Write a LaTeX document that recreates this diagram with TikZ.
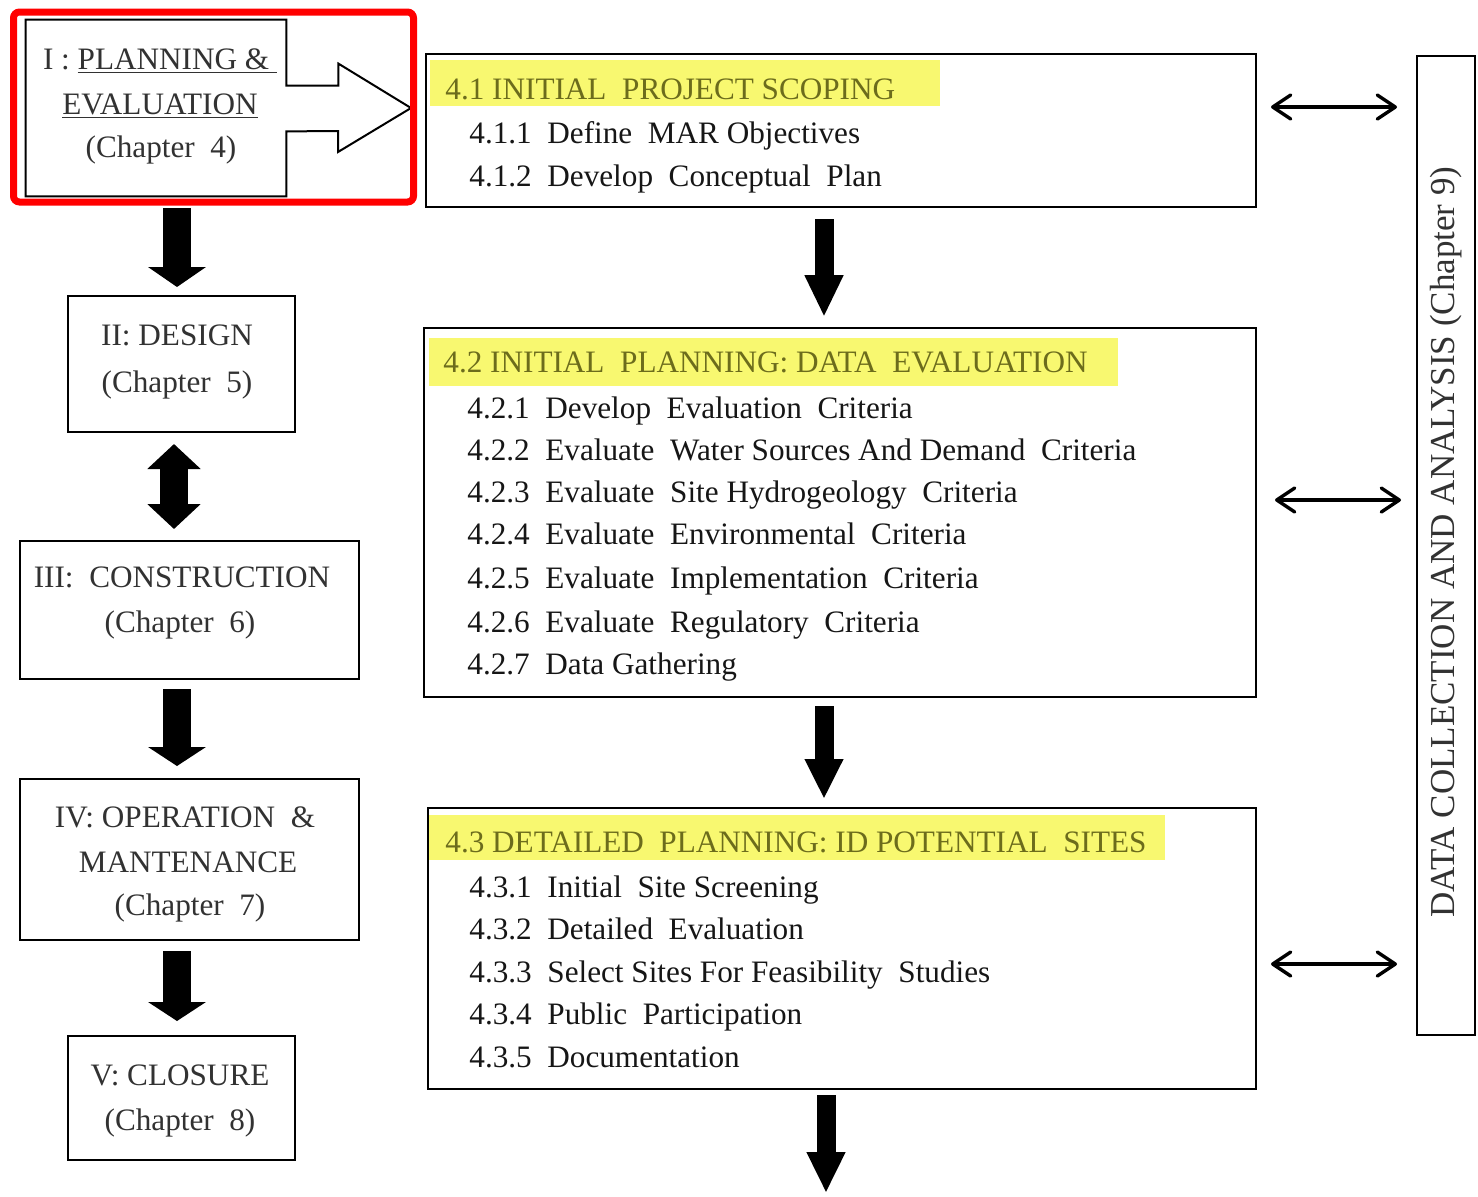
\documentclass[tikz,border=0pt]{standalone}
\usepackage{fontspec}
\setmainfont{Liberation Serif}
\usetikzlibrary{arrows.meta,calc}

\definecolor{hlyellow}{RGB}{248,248,112}
\definecolor{headolive}{RGB}{108,108,28}
\definecolor{phasetext}{RGB}{50,50,50}
\definecolor{itemtext}{RGB}{22,22,22}
\definecolor{focusred}{RGB}{255,0,0}

\newcommand{\txtsize}{\fontsize{15.6}{19}\selectfont}

\begin{document}
\begin{tikzpicture}[x=0.5pt,y=-0.5pt,
  frame/.style={draw=black, line width=1pt, inner sep=0pt, fill=white},
  phaselabel/.style={anchor=base, text=phasetext, font=\txtsize, inner sep=0pt},
  headlabel/.style={anchor=base west, text=headolive, font=\txtsize, inner sep=0pt},
  itemlabel/.style={anchor=base west, text=itemtext, font=\txtsize, inner sep=0pt},
  highlight/.style={fill=hlyellow, draw=none},
  wideflow/.style={line width=14pt, -{Triangle[width=28.5pt,length=#1]}},
  wideflow/.default=10pt,
  twoway/.style={line width=14pt, {Triangle[width=26pt,length=12.5pt]}-{Triangle[width=26pt,length=12.5pt]}},
  narrowflow/.style={line width=9.5pt, -{Triangle[width=18pt,length=#1]}},
  narrowflow/.default=21pt,
  exchange/.style={line width=1.7pt, line cap=round,
    {Straight Barb[length=9pt,width=12pt,line cap=round,line join=round]}-{Straight Barb[length=9pt,width=12pt,line cap=round,line join=round]}},
]
% page area
\useasboundingbox (0,0) rectangle (1478,1196);
\fill[white] (0,0) rectangle (1478,1196);

% ---------- left column: project phases ----------
\node[inner sep=0pt, minimum width=130pt, minimum height=88pt] (p1) at (156,108) {};
\node[frame, minimum width=113.5pt, minimum height=68pt] (p2) at (181.5,364) {};
\node[frame, minimum width=169.5pt, minimum height=69pt] (p3) at (189.5,610) {};
\node[frame, minimum width=169.5pt, minimum height=80.5pt] (p4) at (189.5,859.5) {};
\node[frame, minimum width=113.5pt, minimum height=62pt] (p5) at (181.5,1098) {};

% phase I box merged with its outline arrow
\draw[line width=1pt, line join=miter]
  (p1.north west) -- (p1.north east) -- ($(p1.north east)+(0,66)$)
  -- ++(52,0) -- ++(0,-22) -- (411,108) -- (338,152) -- (338,131)
  -- ($(p1.south east)+(0,-65)$) -- (p1.south east) -- (p1.south west) -- cycle;

% highlight around phase I
\node[draw=focusred, line width=3.5pt, rounded corners=3pt, inner sep=0pt,
      minimum width=200pt, minimum height=95pt] (focus) at (213.5,107) {};

\node[phaselabel] (p1a) at (160,69) {I : \underline{PLANNING \& }};
\node[phaselabel] (p1b) at (160,114) {\underline{EVALUATION}};
\node[phaselabel] (p1c) at (161,157) {(Chapter\ \ 4)};

\node[phaselabel] (p2a) at (177,345) {II: DESIGN};
\node[phaselabel] (p2b) at (177,392) {(Chapter\ \ 5)};

\node[phaselabel] (p3a) at (182,587) {III:\ \ CONSTRUCTION};
\node[phaselabel] (p3b) at (180,632) {(Chapter\ \ 6)};

\node[phaselabel] (p4a) at (185,827) {IV: OPERATION\ \ \&};
\node[phaselabel] (p4b) at (188,872) {MANTENANCE};
\node[phaselabel] (p4c) at (190,915) {(Chapter\ \ 7)};

\node[phaselabel] (p5a) at (180,1085) {V: CLOSURE};
\node[phaselabel] (p5b) at (180,1130) {(Chapter\ \ 8)};

% block arrows between phases
\coordinate (lcol) at (177,0);
\coordinate (lcolb) at (174,0);
\draw[wideflow, shorten <=6pt, shorten >=4pt] (lcol |- p1.south) -- (lcol |- p2.north);
\draw[twoway, shorten <=5.5pt, shorten >=5.5pt] (lcolb |- p2.south) -- (lcolb |- p3.north);
\draw[wideflow=9.5pt, shorten <=4.5pt, shorten >=6pt] (lcol |- p3.south) -- (lcol |- p4.north);
\draw[wideflow=9.5pt, shorten <=5pt, shorten >=7pt] (lcol |- p4.south) -- (lcol |- p5.north);

% ---------- middle column: planning steps ----------
\node[frame, minimum width=415pt, minimum height=76.5pt] (s41) at (841,130.5) {};
\node[frame, minimum width=416pt, minimum height=184.5pt] (s42) at (840,512.5) {};
\node[frame, minimum width=414pt, minimum height=140.5pt] (s43) at (842,948.5) {};

\fill[highlight] (430,60) rectangle (940,106);
\fill[highlight] (429,338) rectangle (1118,386);
\fill[highlight] (429,815) rectangle (1165,860);

\node[headlabel] (h41) at (445,99) {4.1 INITIAL\ \ PROJECT SCOPING};
\node[itemlabel] (i411) at (469,143) {4.1.1\ \ Define\ \ MAR Objectives};
\node[itemlabel] (i412) at (469,186) {4.1.2\ \ Develop\ \ Conceptual\ \ Plan};

\node[headlabel] (h42) at (443,372) {4.2 INITIAL\ \ PLANNING: DATA\ \ EVALUATION};
\node[itemlabel] (i421) at (467,418) {4.2.1\ \ Develop\ \ Evaluation\ \ Criteria};
\node[itemlabel] (i422) at (467,460) {4.2.2\ \ Evaluate\ \ Water Sources And Demand\ \ Criteria};
\node[itemlabel] (i423) at (467,502) {4.2.3\ \ Evaluate\ \ Site Hydrogeology\ \ Criteria};
\node[itemlabel] (i424) at (467,544) {4.2.4\ \ Evaluate\ \ Environmental\ \ Criteria};
\node[itemlabel] (i425) at (467,588) {4.2.5\ \ Evaluate\ \ Implementation\ \ Criteria};
\node[itemlabel] (i426) at (467,632) {4.2.6\ \ Evaluate\ \ Regulatory\ \ Criteria};
\node[itemlabel] (i427) at (467,674) {4.2.7\ \ Data Gathering};

\node[headlabel] (h43) at (445,852) {4.3 DETAILED\ \ PLANNING: ID POTENTIAL\ \ SITES};
\node[itemlabel] (i431) at (469,897) {4.3.1\ \ Initial\ \ Site Screening};
\node[itemlabel] (i432) at (469,939) {4.3.2\ \ Detailed\ \ Evaluation};
\node[itemlabel] (i433) at (469,982) {4.3.3\ \ Select Sites For Feasibility\ \ Studies};
\node[itemlabel] (i434) at (469,1024) {4.3.4\ \ Public\ \ Participation};
\node[itemlabel] (i435) at (469,1067) {4.3.5\ \ Documentation};

% block arrows between steps
\coordinate (mcol) at (824,0);
\coordinate (mcolb) at (826,0);
\coordinate (next) at (826,1193);
\draw[narrowflow, shorten <=5.5pt, shorten >=5pt] (mcol |- s41.south) -- (mcol |- s42.north);
\draw[narrowflow=20pt, shorten <=4pt, shorten >=4pt] (mcol |- s42.south) -- (mcol |- s43.north);
\draw[narrowflow=20.5pt, shorten <=2.5pt] (mcolb |- s43.south) -- (next);

% ---------- right column: data collection ----------
\node[frame, minimum width=29pt, minimum height=489.5pt] (dc) at (1446,545.5) {};
\node[rotate=90, text=phasetext, inner sep=0pt, font=\fontsize{17.5}{20}\selectfont]
  (dct) at (1446,542) {DATA COLLECTION AND ANALYSIS (Chapter 9)};

\draw[exchange, shorten <=7pt, shorten >=9.5pt] (s41.east |- 0,107) -- (dc.west |- 0,107);
\draw[exchange, shorten <=9pt, shorten >=7.5pt] (s42.east |- 0,500) -- (dc.west |- 0,500);
\draw[exchange, shorten <=7pt, shorten >=9.5pt] (s43.east |- 0,964) -- (dc.west |- 0,964);

\end{tikzpicture}
\end{document}
